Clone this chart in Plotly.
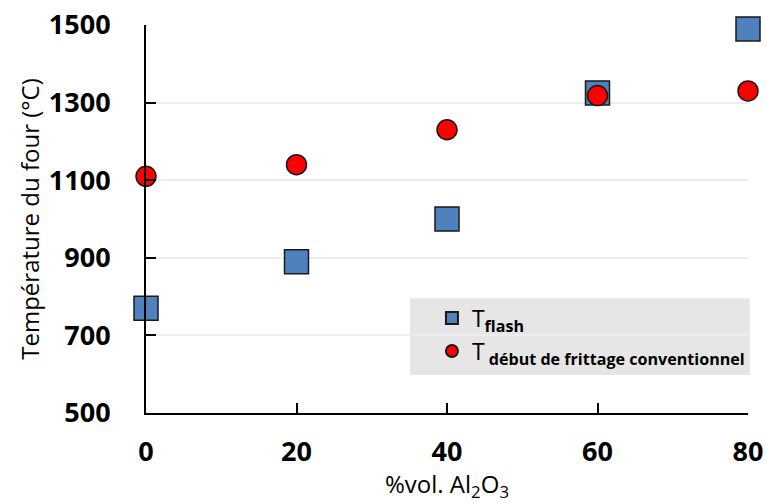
import plotly.graph_objects as go

x_vals = [0, 20, 40, 60, 80]
t_flash = [770, 890, 1000, 1325, 1490]
t_conv = [1110, 1140, 1230, 1318, 1330]
x_ticks = [0, 20, 40, 60, 80]
y_ticks = [500, 700, 900, 1100, 1300, 1500]

FONT = "Open Sans"

fig = go.Figure()
fig.add_trace(go.Scatter(
    x=x_vals, y=t_flash, mode="markers", name="T<sub><b>flash</b></sub>",
    marker=dict(symbol="square", size=24, color="#4f81bd",
                line=dict(color="#1a1a1a", width=1.5)),
    cliponaxis=False,
))
fig.add_trace(go.Scatter(
    x=x_vals, y=t_conv, mode="markers",
    name="T<sub><b> début de frittage conventionnel</b></sub>",
    marker=dict(symbol="circle", size=20, color="#ff0000",
                line=dict(color="#1a1a1a", width=1.5)),
    cliponaxis=False,
))

fig.add_shape(type="rect", xref="paper", yref="paper",
              x0=0.4385, x1=1.003, y0=0.098, y1=0.296,
              fillcolor="#e6e6e6", line=dict(width=0), layer="below")

fig.update_layout(
    width=767, height=503,
    margin=dict(l=146, r=19, t=25, b=90, autoexpand=False),
    paper_bgcolor="white", plot_bgcolor="white",
    showlegend=True,
    legend=dict(x=0.475, y=0.30, xanchor="left", yanchor="top",
                bgcolor="rgba(0,0,0,0)", font=dict(family=FONT, size=23, color="black"),
                itemsizing="constant", tracegroupgap=0),
    xaxis=dict(range=[0, 80], tickvals=x_ticks, ticks="inside", ticklen=10,
               tickwidth=1.5, tickcolor="black", showline=True, linecolor="black",
               linewidth=2, showgrid=False, zeroline=False, ticklabelstandoff=14,
               automargin=False,
               tickfont=dict(family=FONT, size=27, color="black", weight="bold"),
               title=dict(text="%vol. Al<sub>2</sub>O<sub>3</sub>",
                          font=dict(family=FONT, size=24, color="black"), standoff=6)),
    yaxis=dict(range=[500, 1500], tickvals=y_ticks, ticks="inside", ticklen=10,
               tickwidth=1.5, tickcolor="black", showline=True, linecolor="black",
               linewidth=2, showgrid=True, gridcolor="#ededed", gridwidth=1.5,
               zeroline=False, ticklabelstandoff=28, automargin=False,
               tickfont=dict(family=FONT, size=27, color="black", weight="bold"),
               title=dict(text="Température du four (°C)",
                          font=dict(family=FONT, size=24, color="black"), standoff=2)),
)

fig.write_html("out.html", config={"displayModeBar": False},
               post_script="document.body.style.margin='0';document.body.style.overflow='hidden';")
